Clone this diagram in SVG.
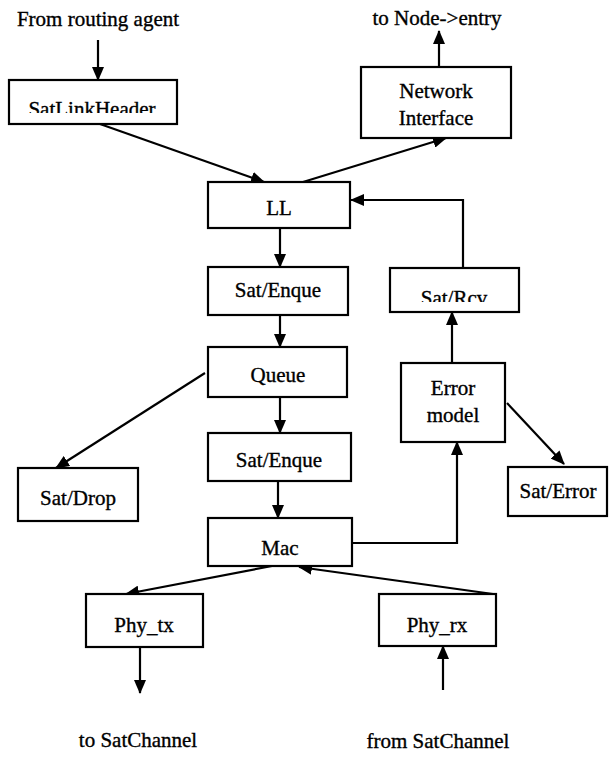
<svg xmlns="http://www.w3.org/2000/svg" width="609" height="759" viewBox="0 0 609 759">
<style>
.box{fill:#fff;stroke:#000;stroke-width:2.2}
.t{font-family:"Liberation Serif","Times New Roman",serif;font-size:21px;fill:#000;text-anchor:middle;stroke:#000;stroke-width:0.35}
.c{fill:none;stroke:#000;stroke-width:2.2;marker-end:url(#ah)}
</style>
<defs>
<marker id="ah" markerUnits="userSpaceOnUse" markerWidth="14" markerHeight="12" viewBox="0 0 14 12" refX="13" refY="6" orient="auto">
<path d="M0,0 L14,6 L0,12 z" fill="#000"/>
</marker>
<clipPath id="clipSLH"><rect x="0" y="80" width="200" height="33"/></clipPath>
<clipPath id="clipRcv"><rect x="380" y="268" width="150" height="34"/></clipPath>
</defs>
<rect width="609" height="759" fill="#fff"/>
<g id="labels">
<text class="t" x="98" y="26">From routing agent</text>
<text class="t" x="437" y="25">to Node-&gt;entry</text>
<text class="t" x="138" y="747">to SatChannel</text>
<text class="t" x="438" y="748">from SatChannel</text>
</g>
<g id="connectors">
<line class="c" x1="98" y1="40" x2="98" y2="80"/>
<line class="c" x1="100" y1="124" x2="264" y2="182"/>
<line class="c" x1="303" y1="182" x2="446" y2="138"/>
<line class="c" x1="439" y1="67" x2="439" y2="31"/>
<polyline class="c" points="463,268 463,200 351,200"/>
<line class="c" x1="280" y1="228" x2="280" y2="267"/>
<line class="c" x1="280" y1="315" x2="280" y2="347"/>
<line class="c" x1="280" y1="397" x2="280" y2="433"/>
<line class="c" x1="205" y1="373" x2="56" y2="468"/>
<line class="c" x1="452" y1="363" x2="452" y2="312"/>
<line class="c" x1="507" y1="403" x2="564" y2="464"/>
<line class="c" x1="278" y1="481" x2="278" y2="518"/>
<polyline class="c" points="352,543 457,543 457,442"/>
<line class="c" x1="272" y1="566" x2="126" y2="594"/>
<line class="c" x1="493" y1="594" x2="299" y2="567"/>
<line class="c" x1="140" y1="647" x2="140" y2="693"/>
<line class="c" x1="443" y1="690" x2="443" y2="646"/>
</g>
<g id="SatLinkHeader">
<rect class="box" x="9" y="80" width="168" height="44"/>
<text class="t" x="92" y="116" clip-path="url(#clipSLH)">SatLinkHeader</text>
</g>
<g id="NetworkInterface">
<rect class="box" x="361" y="67" width="150" height="71"/>
<text class="t" x="436" y="98">Network</text>
<text class="t" x="436" y="125">Interface</text>
</g>
<g id="LL">
<rect class="box" x="208" y="182" width="142" height="46"/>
<text class="t" x="279" y="215">LL</text>
</g>
<g id="SatEnque1">
<rect class="box" x="208" y="267" width="140" height="48"/>
<text class="t" x="278" y="297">Sat/Enque</text>
</g>
<g id="SatRcv">
<rect class="box" x="390" y="268" width="129" height="44"/>
<text class="t" x="454" y="305" clip-path="url(#clipRcv)">Sat/Rcv</text>
</g>
<g id="Queue">
<rect class="box" x="208" y="347" width="139" height="50"/>
<text class="t" x="278" y="382">Queue</text>
</g>
<g id="ErrorModel">
<rect class="box" x="401" y="363" width="104" height="79"/>
<text class="t" x="453" y="395">Error</text>
<text class="t" x="453" y="422">model</text>
</g>
<g id="SatEnque2">
<rect class="box" x="208" y="433" width="143" height="48"/>
<text class="t" x="279" y="467">Sat/Enque</text>
</g>
<g id="SatDrop">
<rect class="box" x="18" y="468" width="120" height="53"/>
<text class="t" x="78" y="505">Sat/Drop</text>
</g>
<g id="SatError">
<rect class="box" x="508" y="467" width="99" height="49"/>
<text class="t" x="558" y="498">Sat/Error</text>
</g>
<g id="Mac">
<rect class="box" x="208" y="518" width="144" height="48"/>
<text class="t" x="280" y="555">Mac</text>
</g>
<g id="Phy_tx">
<rect class="box" x="86" y="594" width="117" height="53"/>
<text class="t" x="144" y="632">Phy_tx</text>
</g>
<g id="Phy_rx">
<rect class="box" x="379" y="594" width="117" height="52"/>
<text class="t" x="437" y="632">Phy_rx</text>
</g>
</svg>
